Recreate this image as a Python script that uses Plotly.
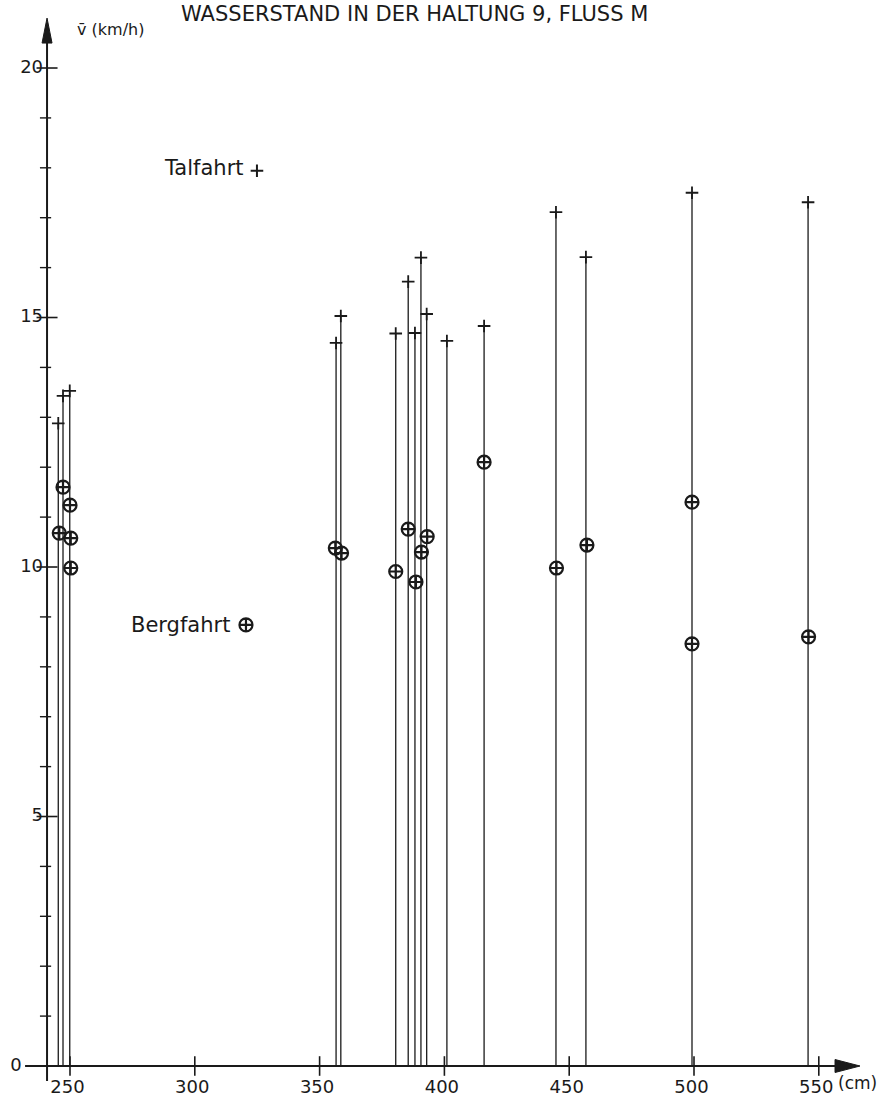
import plotly.graph_objects as go

# Wasserstand (cm) of each Talfahrt measurement and its mean speed (km/h)
pegel_tal = [245.3, 247.2, 249.9, 356.6, 358.5, 380.5, 385.5, 388.2, 390.6,
             392.9, 401.0, 415.9, 444.7, 456.7, 499.2, 545.7]
v_tal = [12.88, 13.43, 13.53, 14.49, 15.03, 14.68, 15.72, 14.69, 16.20,
         15.07, 14.53, 14.83, 17.11, 16.21, 17.50, 17.31]

# Bergfahrt measurements
pegel_berg = [245.7, 247.2, 250.0, 250.3, 250.3, 356.3, 358.8, 380.5, 385.5,
              388.6, 390.8, 393.1, 415.9, 444.9, 457.1, 499.2, 499.2, 545.9]
v_berg = [10.68, 11.60, 11.24, 10.58, 9.98, 10.38, 10.28, 9.91, 10.76,
          9.70, 10.30, 10.61, 12.10, 9.98, 10.44, 11.30, 8.46, 8.60]

x_ticks = [250, 300, 350, 400, 450, 500, 550]
y_major = [0, 5, 10, 15, 20]
y_minor = [1, 2, 3, 4, 6, 7, 8, 9, 11, 12, 13, 14, 16, 17, 18, 19]

title_text = "WASSERSTAND IN DER HALTUNG 9, FLUSS M"
FONT = "DejaVu Sans"
INK = "#1a1a1a"

# axis geometry (data units)
X_RANGE = [221.955, 574.92]
Y_RANGE = [-0.7214, 21.363]
X_AXIS_POS = 240.8          # x where the vertical axis stands
X_AXIS_START = 232.0
X_AXIS_END = 566.5
Y_AXIS_TOP = 21.0

fig = go.Figure()

# vertical stems from 0 up to each Talfahrt value
stem_x, stem_y = [], []
for p, v in zip(pegel_tal, v_tal):
    stem_x += [p, p, None]
    stem_y += [0, v, None]
fig.add_trace(go.Scatter(x=stem_x, y=stem_y, mode="lines",
                         line=dict(color=INK, width=1.3), hoverinfo="skip"))

# Talfahrt crosses
fig.add_trace(go.Scatter(x=pegel_tal, y=v_tal, mode="markers",
                         marker=dict(symbol="cross-thin-open", size=9, color=INK,
                                     line=dict(color=INK, width=1.8))))

# Bergfahrt circled crosses
fig.add_trace(go.Scatter(x=pegel_berg, y=v_berg, mode="markers",
                         marker=dict(symbol="circle-cross-open", size=13,
                                     color=INK, line=dict(color=INK, width=2.2))))

# axis lines
fig.add_shape(type="line", x0=X_AXIS_POS, y0=-0.3, x1=X_AXIS_POS, y1=Y_AXIS_TOP - 0.3,
              line=dict(color=INK, width=2))
fig.add_shape(type="line", x0=X_AXIS_START, y0=0, x1=X_AXIS_END - 4, y1=0,
              line=dict(color=INK, width=2))
# arrow heads
fig.add_shape(type="path",
              path=f"M {X_AXIS_POS - 2.0} {Y_AXIS_TOP - 0.5} L {X_AXIS_POS} {Y_AXIS_TOP} "
                   f"L {X_AXIS_POS + 2.0} {Y_AXIS_TOP - 0.5} Z",
              fillcolor=INK, line=dict(color=INK, width=1))
fig.add_shape(type="path",
              path=f"M {X_AXIS_END - 10} 0.13 L {X_AXIS_END} 0 L {X_AXIS_END - 10} -0.13 Z",
              fillcolor=INK, line=dict(color=INK, width=1))

# tick marks
fig.add_trace(go.Scatter(x=x_ticks, y=[0] * len(x_ticks), mode="markers",
                         marker=dict(symbol="line-ns-open", size=14, color=INK,
                                     line=dict(color=INK, width=1.6))))
fig.add_trace(go.Scatter(x=[X_AXIS_POS] * len(y_major), y=y_major, mode="markers",
                         marker=dict(symbol="line-ew-open", size=15, color=INK,
                                     line=dict(color=INK, width=1.6))))
fig.add_trace(go.Scatter(x=[X_AXIS_POS - 0.6] * len(y_minor), y=y_minor, mode="markers",
                         marker=dict(symbol="line-ew-open", size=8, color=INK,
                                     line=dict(color=INK, width=1.4))))

# tick labels
fig.add_trace(go.Scatter(x=[t - 1.0 for t in x_ticks], y=[-0.45] * len(x_ticks), mode="text",
                         text=[str(t) for t in x_ticks], textposition="middle center",
                         textfont=dict(family=FONT, size=18, color=INK)))
fig.add_trace(go.Scatter(x=[239.2] * (len(y_major) - 1), y=y_major[1:], mode="text",
                         text=[str(t) for t in y_major[1:]], textposition="middle left",
                         textfont=dict(family=FONT, size=18, color=INK)))
fig.add_trace(go.Scatter(x=[230.6], y=[0], mode="text", text=["0"],
                         textposition="middle left",
                         textfont=dict(family=FONT, size=18, color=INK)))

# axis titles and heading
fig.add_annotation(x=252.0, y=20.77, text="v\u0304 (km/h)", showarrow=False,
                   xanchor="left", yanchor="middle",
                   font=dict(family=FONT, size=16, color=INK))
fig.add_annotation(x=557.0, y=-0.35, text="(cm)", showarrow=False,
                   xanchor="left", yanchor="middle",
                   font=dict(family=FONT, size=17, color=INK))
fig.add_annotation(x=388.0, y=21.08, text=title_text, showarrow=False,
                   xanchor="center", yanchor="middle",
                   font=dict(family=FONT, size=21, color=INK))

# legend entries written inside the plot
fig.add_annotation(x=303.7, y=18.0, text="Talfahrt", showarrow=False,
                   xanchor="center", yanchor="middle",
                   font=dict(family=FONT, size=21, color=INK))
fig.add_trace(go.Scatter(x=[324.9], y=[17.94], mode="markers",
                         marker=dict(symbol="cross-thin-open", size=9, color=INK,
                                     line=dict(color=INK, width=2))))
fig.add_annotation(x=294.1, y=8.84, text="Bergfahrt", showarrow=False,
                   xanchor="center", yanchor="middle",
                   font=dict(family=FONT, size=21, color=INK))
fig.add_trace(go.Scatter(x=[320.5], y=[8.84], mode="markers",
                         marker=dict(symbol="circle-cross-open", size=13, color=INK,
                                     line=dict(color=INK, width=2.2))))

fig.update_layout(
    width=881, height=1102,
    margin=dict(l=0, r=0, t=0, b=0),
    paper_bgcolor="white", plot_bgcolor="white",
    showlegend=False,
    xaxis=dict(range=X_RANGE, visible=False, fixedrange=True),
    yaxis=dict(range=Y_RANGE, visible=False, fixedrange=True),
)

fig.write_html("out.html")
